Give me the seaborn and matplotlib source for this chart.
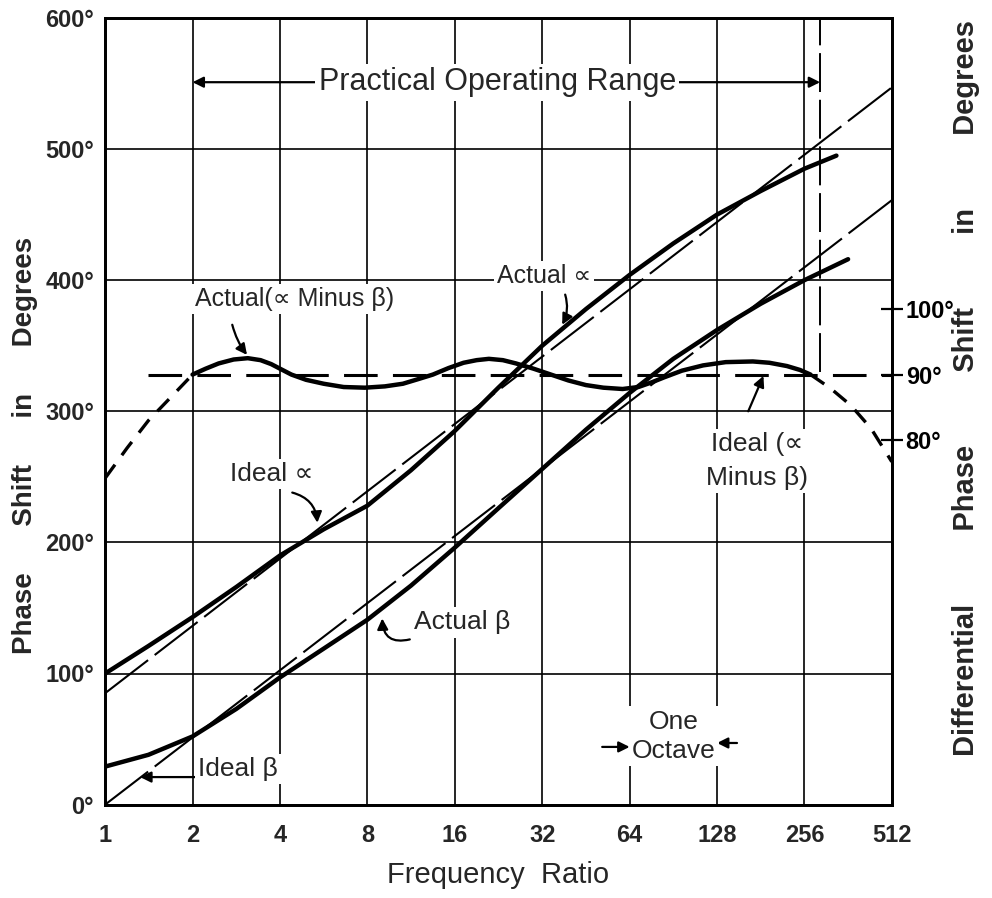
"""
Phase shift vs frequency ratio for a wide-band 90 degree phase-difference network
"""
import matplotlib
matplotlib.use("Agg")
import matplotlib.pyplot as plt
from matplotlib import font_manager
import seaborn as sns

# axis ticks
freq_ticks = [1, 2, 4, 8, 16, 32, 64, 128, 256, 512]
left_ticks = [0, 100, 200, 300, 400, 500, 600]
right_ticks = [80, 90, 100]

# actual alpha and beta phase shift (degrees, left scale)
alpha_freq = [1, 1.41, 2, 2.83, 4, 5.66, 8, 11.3, 16, 22.6, 32, 45.3, 64, 90.5, 128, 181, 256, 330]
alpha_deg = [100, 121, 143, 166, 190, 210, 228, 255, 285, 318, 350, 378, 404, 428, 450, 468, 485, 495]

beta_freq = [1, 1.41, 2, 2.83, 4, 5.66, 8, 11.3, 16, 22.6, 32, 45.3, 64, 90.5, 128, 181, 256, 362]
beta_deg = [29, 38, 52, 73, 97, 119, 141, 167, 196, 226, 256, 286, 314, 340, 362, 382, 400, 416]

# ideal (straight) alpha and beta
ideal_freq = [1, 512]
ideal_alpha_deg = [85, 547]
ideal_beta_deg = [0, 461]

# differential phase shift alpha minus beta (degrees, right scale)
diff_lo_freq = [1, 1.19, 1.41, 1.68, 2]
diff_lo_deg = [74.2, 78.8, 83.0, 86.5, 90.0]
diff_freq = [2, 2.22, 2.46, 2.77, 3.10, 3.43, 3.73, 4.0, 4.38, 4.92, 5.66, 6.63, 7.84,
             9.19, 10.6, 11.96, 13.45, 15.24, 17.15, 19.03, 20.97, 23.43, 25.99, 29.86,
             34.3, 39.4, 45.25, 51.98, 60.55, 68.59, 76.11, 84.45, 97.0, 114.6, 137.2,
             170.1, 194.0, 222.9, 247.3, 268.7]
diff_deg = [90.0, 90.9, 91.7, 92.3, 92.5, 92.2, 91.6, 90.9, 90.0, 89.2, 88.6, 88.1, 88.0,
            88.2, 88.6, 89.3, 90.0, 91.0, 91.8, 92.2, 92.4, 92.2, 91.7, 90.9,
            90.0, 89.1, 88.4, 88.0, 87.8, 88.1, 88.8, 89.6, 90.6, 91.4, 91.9,
            92.0, 91.8, 91.3, 90.7, 90.0]
diff_hi_freq = [268.7, 315, 370, 434, 512]
diff_hi_deg = [90.0, 87.9, 85.3, 81.8, 76.7]
ideal_diff_freq = [1.41, 512]
ideal_diff_deg = [90, 90]

# right scale: 90 deg sits at 328 on the left scale, 1 right deg = 5 left deg
RIGHT_90_ON_LEFT = 328
RIGHT_GAIN = 5

sns.set_theme(style="white")
names = {f.name for f in font_manager.fontManager.ttflist}
narrow = "Liberation Sans Narrow" if "Liberation Sans Narrow" in names else "Liberation Sans"
plt.rcParams["font.family"] = [narrow, "DejaVu Sans"]
plt.rcParams["axes.unicode_minus"] = False

fig = plt.figure(figsize=(9.92, 8.98), dpi=100)
fig.subplots_adjust(left=0.106, right=0.899, bottom=0.104, top=0.98)
ax = fig.add_subplot(111)
ax.set_xscale("log", base=2)
ax.set_xlim(1, 512)
ax.set_ylim(0, 600)

ax2 = ax.twinx()
ax2.set_ylim(90 - RIGHT_90_ON_LEFT / RIGHT_GAIN, 90 + (600 - RIGHT_90_ON_LEFT) / RIGHT_GAIN)

# grid
ax.set_xticks(freq_ticks)
ax.set_xticklabels([str(v) for v in freq_ticks])
ax.minorticks_off()
ax.set_yticks(left_ticks)
ax.set_yticklabels([f"{v}°" for v in left_ticks])
ax.grid(True, color="black", lw=1.2)
ax.tick_params(axis="both", length=0, labelsize=17, pad=8)
ax.tick_params(axis="x", pad=14)
for lab in ax.get_xticklabels() + ax.get_yticklabels():
    lab.set_fontweight("bold")

ax2.set_yticks(right_ticks)
ax2.set_yticklabels([f"{v}°" for v in right_ticks])
ax2.tick_params(axis="y", direction="inout", length=16, width=1.6, labelsize=17, pad=2,
                colors="black")
for lab in ax2.get_yticklabels():
    lab.set_fontweight("bold")
for a in (ax, ax2):
    for s in a.spines.values():
        s.set_color("black")
        s.set_linewidth(2)

# curves
solid = dict(color="black", linewidth=3.2)
sns.lineplot(x=alpha_freq, y=alpha_deg, ax=ax, **solid)
sns.lineplot(x=beta_freq, y=beta_deg, ax=ax, **solid)
sns.lineplot(x=ideal_freq, y=ideal_alpha_deg, ax=ax, color="black", linewidth=1.5,
             linestyle=(0, (26, 4)))
sns.lineplot(x=ideal_freq, y=ideal_beta_deg, ax=ax, color="black", linewidth=1.5,
             linestyle=(0, (26, 4)))

sns.lineplot(x=diff_freq, y=diff_deg, ax=ax2, **solid)
sns.lineplot(x=diff_lo_freq, y=diff_lo_deg, ax=ax2, color="black", linewidth=2.4,
             linestyle=(0, (5, 3.5)))
sns.lineplot(x=diff_hi_freq, y=diff_hi_deg, ax=ax2, color="black", linewidth=2.4,
             linestyle=(0, (5, 3.5)))
sns.lineplot(x=ideal_diff_freq, y=ideal_diff_deg, ax=ax2, color="black", linewidth=2.2,
             linestyle=(0, (11, 5)))

# end of practical operating range
ax.plot([290, 290], [330, 600], color="black", lw=1.4, linestyle=(0, (20, 4)))

ax.set_xlabel("Frequency  Ratio", fontsize=21, labelpad=10)
ax.set_ylabel("Phase      Shift      in      Degrees", fontsize=20, fontweight="bold")
ax.yaxis.set_label_coords(-0.085, 0.457)
ax2.set_ylabel("Differential         Phase         Shift         in         Degrees",
               fontsize=21, fontweight="bold", rotation=90)
ax2.yaxis.set_label_coords(1.076, 0.53)

# annotations (all placed in left-scale data coordinates)
box = dict(boxstyle="square,pad=0.12", fc="white", ec="none")
tr = ax.transData


def label(text, x, y, size=19, **kw):
    ax2.text(x, y, text, transform=tr, fontsize=size, ha="center", va="center",
             bbox=box, zorder=6, **kw)


def arrow(xy, xytext, rad=0.0, style="-|>"):
    ax2.annotate("", xy=xy, xytext=xytext, xycoords=tr, textcoords=tr, zorder=5,
                 arrowprops=dict(arrowstyle=style, color="black", lw=1.6,
                                 mutation_scale=16, shrinkA=0, shrinkB=0,
                                 connectionstyle=f"arc3,rad={rad}"))


arrow((2, 551), (22.4, 551))
arrow((290, 551), (22.4, 551))
label("Practical Operating Range", 22.4, 551, size=22)

label("Actual(∝ Minus β)", 4.5, 386, size=18)
arrow((3.08, 343), (2.74, 366), rad=0.1)

label("Actual ∝", 32.5, 403, size=18)
arrow((37.5, 366), (38.4, 389), rad=-0.2)

label("Ideal ∝", 3.76, 252)
arrow((5.38, 215), (4.41, 238), rad=-0.35)

label("Actual β", 16.9, 139)
arrow((9.0, 142), (11.2, 126), rad=-0.6)

label("Ideal β", 2.87, 27, size=19)
arrow((1.32, 21), (2.07, 21))

label("Ideal (∝\nMinus β)", 176, 262, linespacing=1.5)
arrow((185, 327), (164, 300))

label("One\nOctave", 91, 52, linespacing=1.3)
arrow((64, 44), (51.5, 44))
arrow((128, 47), (150, 47))

fig.savefig("out.png", dpi=100)
